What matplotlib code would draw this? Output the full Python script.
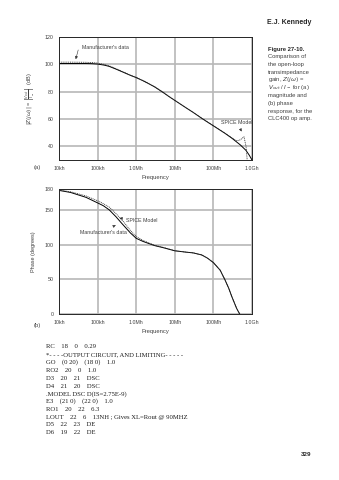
import matplotlib
matplotlib.use("Agg")
from matplotlib import pyplot as plt

# magnitude response (dB)
freq_mag = [1e4, 2e4, 5e4, 7e4, 1e5, 1.5e5, 2e5, 3e5, 5e5, 7e5, 1e6, 1.5e6, 2e6, 3e6,
            5e6, 7e6, 1e7, 2e7, 3e7, 5e7, 7e7, 1e8, 2e8, 3e8, 5e8, 7e8, 8.5e8, 1e9]
spice_mag = [100.6, 100.6, 100.6, 100.5, 100.2, 99.4, 98.5, 96.5, 93.8, 92.0, 90.3,
             88.0, 86.2, 83.5, 79.4, 76.5, 73.6, 68.0, 64.8, 60.5, 57.8, 55.0, 49.5,
             46.0, 41.0, 37.0, 33.5, 30.0]
freq_mag_manuf = [1e4, 2e4, 5e4, 7e4, 1e5, 1.5e5, 2e5, 3e5, 5e5, 7e5, 1e6, 1.5e6,
                  2e6, 3e6, 5e6, 7e6, 1e7, 2e7, 3e7, 5e7, 7e7, 1e8, 2e8, 3e8, 4e8,
                  5e8, 6.2e8, 7e8, 7.5e8]
manuf_mag = [101.6, 101.6, 101.5, 101.3, 100.9, 99.9, 98.9, 96.8, 94.0, 92.1, 90.4,
             88.1, 86.3, 83.6, 79.5, 76.6, 73.7, 68.1, 64.9, 60.6, 57.9, 55.2, 49.7,
             46.2, 44.0, 44.8, 47.0, 40.0, 30.0]

# phase response (degrees)
freq_ph = [1e4, 2e4, 5e4, 1e5, 1.4e5, 2e5, 3e5, 4e5, 5e5, 7e5, 1e6, 1.5e6, 2e6, 3e6,
           5e6, 1e7, 2e7, 3e7, 5e7, 7e7, 1e8, 1.5e8, 2e8, 2.5e8, 3e8, 4e8, 4.8e8]
manuf_ph = [178, 175, 168, 160, 156, 150, 140, 132, 126, 117, 109, 104.5, 102, 98.5,
            95.5, 91, 89, 88, 85, 80.5, 74, 63, 49, 37, 25, 8, 0]
spice_ph = [178.5, 176, 170, 163, 159, 154, 144.5, 137, 131, 120.5, 111.5, 106, 103,
            99, 96, 91.2, 89, 88, 85, 80.5, 74, 63, 49, 37, 25, 8, 0]

xticks = [1e4, 1e5, 1e6, 1e7, 1e8, 1e9]
xticklabels = ['10kh', '100kh', '1.0Mh', '10Mh', '100Mh', '1.0Gh']
mag_ticks = [40, 60, 80, 100, 120]
ph_ticks = [0, 50, 100, 150, 180]

caption = ['Comparison of', 'the open-loop', 'transimpedance',
           r'gain, $Z(j\omega)$ =', r'$V_{out}$ / $I_-$ for (a)', 'magnitude and',
           '(b) phase', 'response, for the', 'CLC400 op amp.']

netlist = ['RC    18    0    0.29',
           '*- - - -OUTPUT CIRCUIT, AND LIMITING- - - - -',
           'GO    (0 20)    (18 0)    1.0',
           'RO2    20    0    1.0',
           'D3    20    21    DSC',
           'D4    21    20    DSC',
           '.MODEL DSC D(IS=2.75E-9)',
           'E3    (21 0)    (22 0)    1.0',
           'RO1    20    22    6.3',
           'LOUT    22    6    13NH ; Gives XL=Rout @ 90MHZ',
           'D5    22    23    DE',
           'D6    19    22    DE']

W, H = 339, 480
plt.rcParams['font.family'] = ['Liberation Sans', 'DejaVu Sans']
plt.rcParams['mathtext.fontset'] = 'dejavusans'
fig = plt.figure(figsize=(W / 100, H / 100), dpi=100)
fig.patch.set_facecolor('white')


def px(x, y):
    return x / W, 1 - y / H


def style(ax, yticks, ylim):
    ax.set_xscale('log')
    ax.set_xlim(1e4, 1e9)
    ax.set_ylim(*ylim)
    ax.set_xticks(xticks)
    ax.set_xticklabels(xticklabels)
    ax.minorticks_off()
    ax.set_yticks(yticks)
    ax.grid(True, color='0.72', lw=1.2)
    ax.tick_params(length=0, labelsize=3.8, pad=4, colors='0.25')
    for s in ax.spines.values():
        s.set_linewidth(0.7)
        s.set_color('0.15')
    ax.set_xlabel('Frequency', fontsize=4.2, color='0.25', labelpad=3)


lw = 0.7
dot = (0, (1.2, 1.0))

# (a) magnitude
ax1 = fig.add_axes([59 / W, 1 - 160 / H, 193 / W, 123 / H])
style(ax1, mag_ticks, (30, 120))
ax1.plot(freq_mag, spice_mag, color='black', lw=lw)
ax1.plot(freq_mag_manuf, manuf_mag, color='0.2', lw=0.6, linestyle=dot)
ax1.set_ylabel(r'$|Z(j\omega)|$ = $\left|\frac{V_{out}}{I_-}\right|$  (dB)',
               fontsize=4.0, color='0.25', labelpad=6)
ax1.annotate("Manufacturer's data", xy=(2.6e4, 101.8), xytext=(3.9e4, 112.5),
             fontsize=3.8, color='0.25', va='center',
             arrowprops=dict(arrowstyle='-|>', lw=0.4, color='0.2', mutation_scale=4,
                             connectionstyle='angle,angleA=180,angleB=75,rad=0'))
ax1.annotate('SPICE Model', xy=(5.8e8, 49), xytext=(1.6e8, 57.5),
             fontsize=3.8, color='0.25', va='center',
             arrowprops=dict(arrowstyle='-|>', lw=0.4, color='0.2', mutation_scale=4))
fig.text(*px(34, 167), '(a)', fontsize=4.2, color='0.25', va='center')

# (b) phase
ax2 = fig.add_axes([59 / W, 1 - 314 / H, 193 / W, 125 / H])
style(ax2, ph_ticks, (0, 180))
ax2.plot(freq_ph, manuf_ph, color='black', lw=lw)
ax2.plot(freq_ph, spice_ph, color='0.2', lw=0.6, linestyle=dot)
ax2.set_ylabel('Phase (degrees)', fontsize=4.0, color='0.25', labelpad=6)
ax2.annotate('SPICE Model', xy=(3.7e5, 138), xytext=(5.6e5, 135),
             fontsize=3.8, color='0.25', va='center',
             arrowprops=dict(arrowstyle='-|>', lw=0.4, color='0.2', mutation_scale=4))
ax2.annotate("Manufacturer's data", xy=(3.4e5, 130), xytext=(3.4e4, 118),
             fontsize=3.8, color='0.25', va='center',
             arrowprops=dict(arrowstyle='-|>', lw=0.4, color='0.2', mutation_scale=4))
fig.text(*px(34, 326), '(b)', fontsize=4.2, color='0.25', va='center')

# page header and caption
fig.text(*px(311, 22), 'E.J. Kennedy', fontsize=5.0, fontweight='bold',
         color='0.15', ha='right', va='center')
fig.text(*px(268, 49), 'Figure 27-10.', fontsize=4.2, fontweight='bold',
         color='0.15', va='center')
for i, line in enumerate(caption):
    fig.text(*px(268, 56.5 + i * 7.8), line, fontsize=4.2, color='0.25', va='center')

# netlist listing
for i, line in enumerate(netlist):
    fig.text(*px(46, 347 + i * 7.8), line, fontsize=4.8, color='0.1', va='center',
             family='Liberation Serif')

fig.text(*px(311, 455), '329', fontsize=4.5, fontweight='bold', color='0.15',
         ha='right', va='center')

fig.savefig('out.png', dpi=100, facecolor='white')
